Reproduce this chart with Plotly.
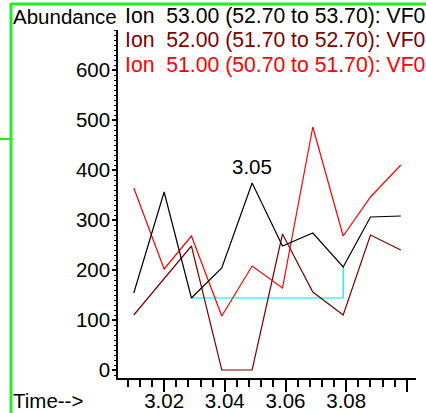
import plotly.graph_objects as go

# retention times (min) of the scans
times = [3.010, 3.020, 3.029, 3.039, 3.049, 3.059, 3.069, 3.079, 3.088, 3.098]

# abundance of each extracted ion
ion53 = [154, 356, 144, 204, 374, 248, 274, 206, 306, 308]
ion52 = [110, 182, 248, 0, 0, 272, 156, 110, 270, 240]
ion51 = [364, 202, 268, 108, 208, 164, 486, 268, 346, 410]

ion_labels = ["Ion\u00a0\u00a053.00 (52.70 to 53.70): VF0",
              "Ion\u00a0\u00a052.00 (51.70 to 52.70): VF0",
              "Ion\u00a0\u00a051.00 (50.70 to 51.70): VF0"]
ion_colors = ["#000000", "#800000", "#ff0000"]

x_ticks = [3.02, 3.04, 3.06, 3.08, 3.10]
x_tick_text = ["3.02", "3.04", "3.06", "3.08", ""]
y_ticks = [0, 100, 200, 300, 400, 500, 600]

# integration baseline of the 3.05 peak (scan 2 to scan 7)
base_start, base_end = 2, 7

W, H = 426, 413
L, R, T, B = 118, 10, 30, 35
PW, PH = W - L - R, H - T - B


def px(x):
    return (x - L) / PW


def py(y):
    return (H - B - y) / PH


FONT = "Liberation Sans, Arial, sans-serif"
FS = 20.5

fig = go.Figure()

# cyan baseline drawn first so the peaks sit on top
fig.add_trace(go.Scatter(
    x=[times[base_start], times[base_end], times[base_end]],
    y=[ion53[base_start], ion53[base_start], ion53[base_end]],
    mode="lines", line=dict(color="#00e5e5", width=1.2),
    hoverinfo="skip"))

for vals, col in [(ion52, ion_colors[1]), (ion51, ion_colors[2]), (ion53, ion_colors[0])]:
    fig.add_trace(go.Scatter(x=times, y=vals, mode="lines",
                             line=dict(color=col, width=1.2)))

annotations = [
    dict(text="Abundance", x=px(11), y=py(16), xanchor="left", yanchor="middle"),
    dict(text="Time-->", x=px(11), y=py(400), xanchor="left", yanchor="middle"),
]
for i, (lab, col) in enumerate(zip(ion_labels, ion_colors)):
    annotations.append(dict(text=lab, x=px(123), y=py(16 + 24.5 * i),
                            xanchor="left", yanchor="middle",
                            font=dict(color=col, size=21.2, family=FONT)))
for a in annotations:
    a.update(xref="paper", yref="paper", showarrow=False)
    a.setdefault("font", dict(color="black", size=FS, family=FONT))

# peak label
annotations.append(dict(x=times[4], y=ion53[4], text="%.2f" % times[4],
                        showarrow=False, yshift=17, xref="x", yref="y",
                        font=dict(color="black", size=FS, family=FONT)))

green = "#22ee22"
shapes = [
    dict(type="line", xref="paper", yref="paper", x0=px(11), x1=px(11),
         y0=py(3), y1=py(H + 5), line=dict(color=green, width=3)),
    dict(type="line", xref="paper", yref="paper", x0=px(11), x1=px(W + 5),
         y0=py(4), y1=py(4), line=dict(color=green, width=3)),
    dict(type="line", xref="paper", yref="paper", x0=px(-2), x1=px(11),
         y0=py(139), y1=py(139), line=dict(color=green, width=2)),
]

fig.update_layout(
    width=W, height=H,
    margin=dict(l=L, r=R, t=T, b=B, autoexpand=False),
    plot_bgcolor="white", paper_bgcolor="white",
    showlegend=False,
    font=dict(family=FONT, size=FS, color="black"),
    annotations=annotations,
    shapes=shapes,
    xaxis=dict(range=[3.0048, 3.1030], showgrid=False, zeroline=False,
               automargin=False,
               showline=True, linecolor="black", linewidth=1.5,
               tickmode="array", tickvals=x_ticks, ticktext=x_tick_text,
               ticks="outside", ticklen=12, tickwidth=1.5, tickcolor="black",
               ticklabelstandoff=-8,
               minor=dict(tick0=3.0, dtick=0.004, ticks="outside", ticklen=7,
                          tickwidth=1.5, tickcolor="black", showgrid=False)),
    yaxis=dict(range=[-16, 680], showgrid=False, zeroline=False,
               automargin=False,
               showline=True, linecolor="black", linewidth=1.5,
               tickmode="array", tickvals=y_ticks,
               ticks="outside", ticklen=4, tickwidth=1.5, tickcolor="black",
               ticklabelstandoff=-2,
               minor=dict(tick0=0, dtick=10, ticks="outside", ticklen=2,
                          tickwidth=1, tickcolor="black", showgrid=False)),
)

# the page's default body margin would shift the chart by 8px
fig.write_html("out.html", config={"displayModeBar": False},
               post_script="document.body.style.margin='0';")
